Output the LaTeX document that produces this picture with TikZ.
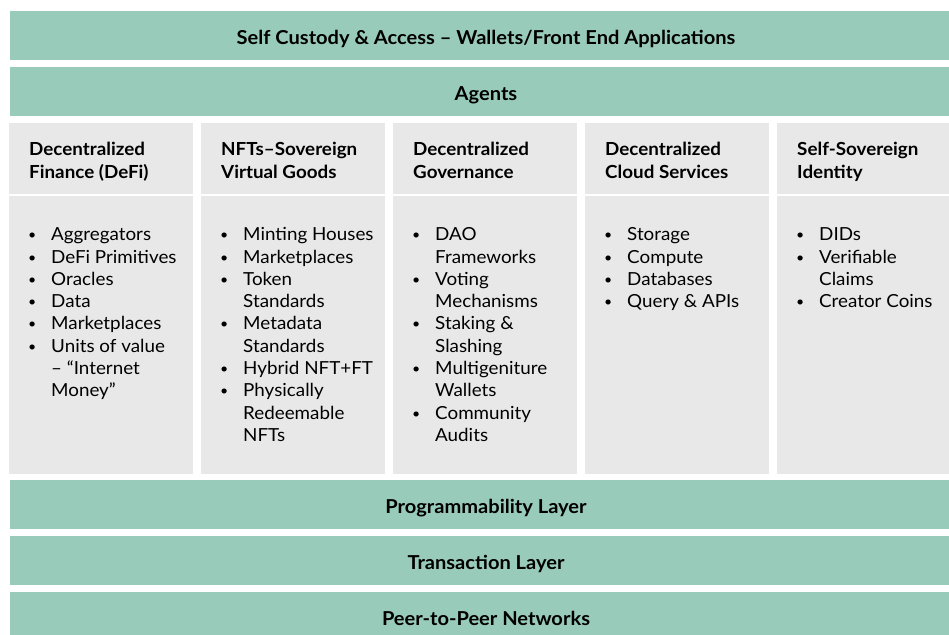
\documentclass[tikz,border=0pt]{standalone}
\usepackage{fontspec}
\setmainfont[FakeStretch=1.045]{Lato}
\definecolor{bandgreen}{HTML}{99CBBB}
\definecolor{cellgrey}{HTML}{E8E8E8}
\newcommand{\bul}{\makebox[6pt][c]{\raisebox{1pt}{\scalebox{0.75}{•}}}}
\newcommand{\hd}[2]{\begin{tabular}[t]{@{}l@{}}#1\\#2\end{tabular}}
\begin{document}
\begin{tikzpicture}[x=1pt,y=-1pt,
 bandbox/.style={fill=bandgreen, draw=none, minimum width=952pt, minimum height=49pt, anchor=north west, inner sep=0pt},
 cellbox/.style={fill=cellgrey, draw=none, minimum width=184pt, anchor=north west, inner sep=0pt},
 headbox/.style={cellbox, minimum height=71pt},
 bodybox/.style={cellbox, minimum height=278pt},
 bandlabel/.style={anchor=base, inner sep=0pt, font=\bfseries\fontsize{19.2}{22}\selectfont},
 headlabel/.style={anchor=base west, inner sep=0pt, font=\bfseries\fontsize{18}{22.8}\selectfont},
 itemlabel/.style={anchor=base west, inner sep=0pt, font=\fontsize{18}{22.3}\selectfont},
]
\useasboundingbox (0,0) rectangle (949,634);
\clip (0,0) rectangle (949,634);
% bands
\node[bandbox] (b1) at (10,11) {};
\node[bandbox] (b2) at (10,67) {};
\node[bandbox] (b3) at (10,480) {};
\node[bandbox] (b4) at (10,536) {};
\node[bandbox] (b5) at (10,592) {};
\node[bandlabel] (t1) at (486,44.3) {Self Custody \& Access – Wallets/Front End Applications};
\node[bandlabel] (t2) at (486,100.3) {Agents};
\node[bandlabel] (t3) at (486,513.3) {Programmability Layer};
\node[bandlabel] (t4) at (486,569.3) {Transaction Layer};
\node[bandlabel] (t5) at (486,625.3) {Peer-to-Peer Networks};
% column cells
\node[headbox] (h1) at (9,123) {};
\node[headbox] (h2) at (201,123) {};
\node[headbox] (h3) at (393,123) {};
\node[headbox] (h4) at (585,123) {};
\node[headbox] (h5) at (777,123) {};
\node[bodybox] (c1) at (9,196) {};
\node[bodybox] (c2) at (201,196) {};
\node[bodybox] (c3) at (393,196) {};
\node[bodybox] (c4) at (585,196) {};
\node[bodybox] (c5) at (777,196) {};
% headers
\node[headlabel] (h1t) at (29,155.3) {\hd{Decentralized}{Finance (DeFi)}};
\node[headlabel] (h2t) at (221,155.3) {\hd{NFTs–Sovereign}{Virtual Goods}};
\node[headlabel] (h3t) at (413,155.3) {\hd{Decentralized}{Governance}};
\node[headlabel] (h4t) at (605,155.3) {\hd{Decentralized}{Cloud Services}};
\node[headlabel] (h5t) at (797,155.3) {\hd{Self-Sovereign}{Identity}};
% lists
\node[itemlabel] (l1) at (29,240.7) {\begin{tabular}[t]{@{}l@{\hspace{16pt}}l@{}}
\bul & Aggregators\\
\bul & DeFi Primitives\\
\bul & Oracles\\
\bul & Data\\
\bul & Marketplaces\\
\bul & Units of value\\
 & – “Internet\\
 & Money”
\end{tabular}};
\node[itemlabel] (l2) at (221,240.7) {\begin{tabular}[t]{@{}l@{\hspace{16pt}}l@{}}
\bul & Minting Houses\\
\bul & Marketplaces\\
\bul & Token\\
 & Standards\\
\bul & Metadata\\
 & Standards\\
\bul & Hybrid NFT+FT\\
\bul & Physically\\
 & Redeemable\\
 & NFTs
\end{tabular}};
\node[itemlabel] (l3) at (413,240.7) {\begin{tabular}[t]{@{}l@{\hspace{16pt}}l@{}}
\bul & DAO\\
 & Frameworks\\
\bul & Voting\\
 & Mechanisms\\
\bul & Staking \&\\
 & Slashing\\
\bul & Multigeniture\\
 & Wallets\\
\bul & Community\\
 & Audits
\end{tabular}};
\node[itemlabel] (l4) at (605,240.7) {\begin{tabular}[t]{@{}l@{\hspace{16pt}}l@{}}
\bul & Storage\\
\bul & Compute\\
\bul & Databases\\
\bul & Query \& APIs
\end{tabular}};
\node[itemlabel] (l5) at (797,240.7) {\begin{tabular}[t]{@{}l@{\hspace{16pt}}l@{}}
\bul & DIDs\\
\bul & Verifiable\\
 & Claims\\
\bul & Creator Coins
\end{tabular}};
\end{tikzpicture}
\end{document}
